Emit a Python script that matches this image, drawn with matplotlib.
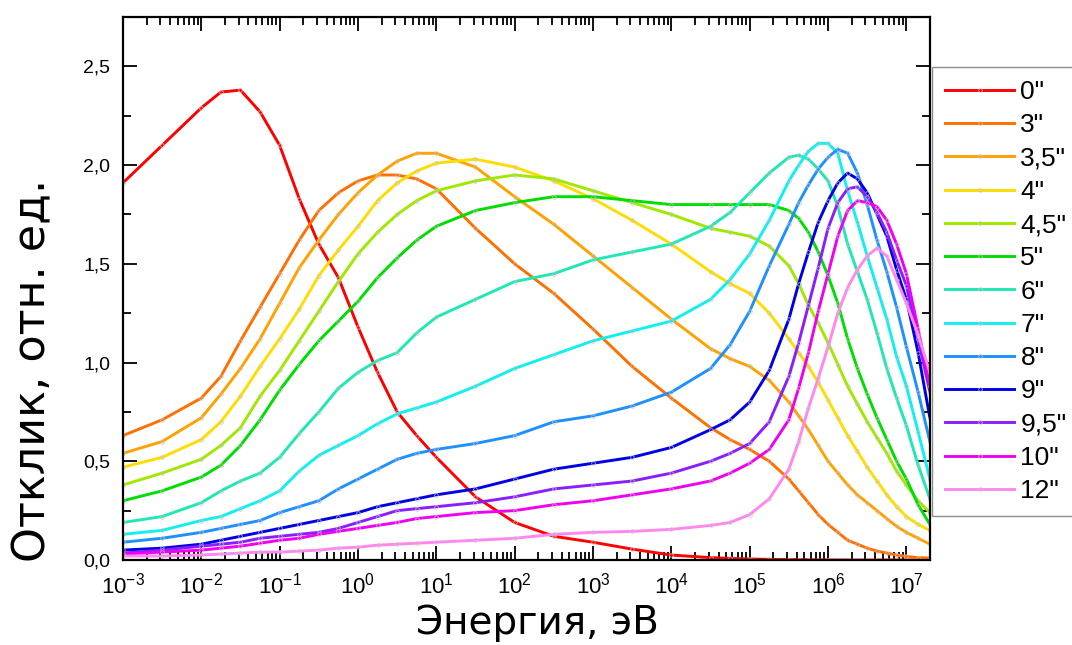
import numpy as np
import matplotlib
matplotlib.use('Agg')
import matplotlib.pyplot as plt
from matplotlib.ticker import LogLocator, MultipleLocator, FuncFormatter, NullFormatter

plt.rcParams['font.family'] = ['Liberation Sans', 'DejaVu Sans']

log_e = [-3, -2.5, -2, -1.75, -1.5, -1.25, -1, -0.75, -0.5, -0.25, 0, 0.25, 0.5, 0.75, 1,
         1.5, 2, 2.5, 3, 3.5, 4, 4.5, 4.75, 5, 5.25,
         5.5, 5.625, 5.75, 5.875, 6, 6.125, 6.25, 6.375, 6.5, 6.625, 6.75, 6.875, 7, 7.15, 7.3]

labels = ['0"', '3"', '3,5"', '4"', '4,5"', '5"', '6"', '7"', '8"', '9"', '9,5"', '10"', '12"']
colors = ['#FF0000', '#FF7000', '#FFA200', '#FFDD00', '#A0E800', '#00DD00', '#20E8B4',
          '#10F0F0', '#1E90FF', '#0000E6', '#8A1EFF', '#F000F0', '#FF88EE']

r0 = [1.91, 2.10, 2.29, 2.37, 2.38, 2.27, 2.10, 1.83, 1.60, 1.43, 1.18, 0.95, 0.75, 0.63, 0.52,
      0.32, 0.19, 0.12, 0.09, 0.055, 0.025, 0.012, 0.008, 0.005, 0.003,
      0.002, 0.002, 0.001, 0.001, 0, 0, 0, 0, 0, 0, 0, 0, 0, 0, 0]
r3 = [0.63, 0.71, 0.82, 0.93, 1.11, 1.28, 1.45, 1.62, 1.77, 1.86, 1.92, 1.95, 1.95, 1.93, 1.88,
      1.68, 1.50, 1.35, 1.17, 0.98, 0.82, 0.67, 0.61, 0.56, 0.50,
      0.41, 0.35, 0.29, 0.23, 0.18, 0.14, 0.10, 0.08, 0.06, 0.045, 0.035, 0.025, 0.018, 0.012, 0.01]
r35 = [0.54, 0.60, 0.72, 0.84, 0.97, 1.12, 1.30, 1.48, 1.62, 1.75, 1.86, 1.95, 2.02, 2.06, 2.06,
       1.99, 1.84, 1.70, 1.54, 1.38, 1.22, 1.07, 1.02, 0.98, 0.91,
       0.80, 0.73, 0.66, 0.58, 0.50, 0.44, 0.38, 0.33, 0.29, 0.25, 0.21, 0.17, 0.14, 0.11, 0.08]
r4 = [0.47, 0.52, 0.61, 0.70, 0.83, 0.98, 1.12, 1.27, 1.44, 1.57, 1.69, 1.82, 1.91, 1.97, 2.01,
      2.03, 1.99, 1.92, 1.83, 1.72, 1.60, 1.46, 1.40, 1.35, 1.25,
      1.12, 1.05, 0.98, 0.90, 0.81, 0.72, 0.63, 0.55, 0.47, 0.40, 0.33, 0.27, 0.22, 0.18, 0.15]
r45 = [0.38, 0.44, 0.51, 0.58, 0.67, 0.83, 0.96, 1.11, 1.26, 1.41, 1.55, 1.66, 1.75, 1.82, 1.87,
       1.92, 1.95, 1.93, 1.87, 1.81, 1.75, 1.68, 1.66, 1.64, 1.59,
       1.49, 1.40, 1.29, 1.20, 1.10, 0.99, 0.88, 0.79, 0.70, 0.62, 0.54, 0.45, 0.38, 0.30, 0.24]
r5 = [0.30, 0.35, 0.42, 0.48, 0.58, 0.71, 0.86, 0.99, 1.11, 1.21, 1.31, 1.43, 1.53, 1.62, 1.69,
      1.77, 1.81, 1.84, 1.84, 1.82, 1.80, 1.80, 1.80, 1.80, 1.80,
      1.77, 1.73, 1.66, 1.56, 1.44, 1.30, 1.12, 0.97, 0.84, 0.72, 0.61, 0.50, 0.41, 0.28, 0.18]
r6 = [0.19, 0.22, 0.29, 0.35, 0.40, 0.44, 0.52, 0.64, 0.75, 0.87, 0.95, 1.01, 1.05, 1.15, 1.23,
      1.32, 1.41, 1.45, 1.52, 1.56, 1.60, 1.69, 1.76, 1.86, 1.96,
      2.04, 2.05, 2.03, 1.98, 1.92, 1.79, 1.60, 1.46, 1.32, 1.15, 0.97, 0.82, 0.68, 0.48, 0.31]
r7 = [0.13, 0.15, 0.20, 0.22, 0.26, 0.30, 0.35, 0.45, 0.53, 0.58, 0.63, 0.69, 0.74, 0.77, 0.80,
      0.88, 0.97, 1.04, 1.11, 1.16, 1.21, 1.32, 1.42, 1.55, 1.72,
      1.92, 2.00, 2.07, 2.11, 2.11, 2.06, 1.87, 1.71, 1.54, 1.38, 1.22, 1.03, 0.88, 0.65, 0.41]
r8 = [0.09, 0.11, 0.14, 0.16, 0.18, 0.20, 0.24, 0.27, 0.30, 0.36, 0.41, 0.46, 0.51, 0.54, 0.56,
      0.59, 0.63, 0.70, 0.73, 0.78, 0.85, 0.97, 1.09, 1.26, 1.49,
      1.70, 1.81, 1.90, 1.98, 2.04, 2.08, 2.06, 1.96, 1.80, 1.62, 1.46, 1.28, 1.08, 0.85, 0.60]
r9 = [0.05, 0.06, 0.08, 0.10, 0.12, 0.14, 0.16, 0.18, 0.20, 0.22, 0.24, 0.27, 0.29, 0.31, 0.33,
      0.36, 0.41, 0.46, 0.49, 0.52, 0.57, 0.66, 0.71, 0.80, 0.96,
      1.22, 1.40, 1.56, 1.71, 1.82, 1.91, 1.96, 1.93, 1.86, 1.75, 1.64, 1.47, 1.32, 1.05, 0.72]
r95 = [0.035, 0.05, 0.07, 0.08, 0.09, 0.11, 0.12, 0.13, 0.14, 0.16, 0.19, 0.22, 0.25, 0.26, 0.27,
       0.29, 0.32, 0.36, 0.38, 0.40, 0.44, 0.50, 0.54, 0.59, 0.70,
       0.93, 1.10, 1.29, 1.48, 1.68, 1.81, 1.88, 1.89, 1.84, 1.76, 1.66, 1.52, 1.39, 1.12, 0.85]
r10 = [0.03, 0.04, 0.05, 0.06, 0.07, 0.085, 0.10, 0.11, 0.13, 0.145, 0.16, 0.175, 0.19, 0.21, 0.22,
       0.24, 0.25, 0.28, 0.30, 0.33, 0.36, 0.40, 0.44, 0.49, 0.56,
       0.71, 0.87, 1.05, 1.26, 1.45, 1.64, 1.77, 1.82, 1.81, 1.79, 1.72, 1.60, 1.45, 1.17, 0.88]
r12 = [0.02, 0.02, 0.025, 0.03, 0.035, 0.04, 0.04, 0.045, 0.05, 0.06, 0.065, 0.075, 0.08, 0.085, 0.09,
       0.10, 0.11, 0.13, 0.14, 0.145, 0.155, 0.175, 0.19, 0.23, 0.31,
       0.46, 0.60, 0.77, 0.92, 1.08, 1.25, 1.38, 1.47, 1.54, 1.58, 1.54, 1.42, 1.30, 1.14, 0.95]

series = [r0, r3, r35, r4, r45, r5, r6, r7, r8, r9, r95, r10, r12]


def main():
    fig = plt.figure(figsize=(10.72, 6.45), dpi=100)
    ax = fig.add_axes([0.1147, 0.1318, 0.7528, 0.8418])

    energy = 10.0 ** np.array(log_e)
    for vals, lab, col in zip(series, labels, colors):
        ax.plot(energy, vals, color=col, lw=2.1, label=lab,
                marker='o', ms=2.6, mfc='none', mec='#c4c4c4', mew=0.5)

    ax.set_xscale('log')
    ax.set_xlim(1e-3, 2e7)
    ax.set_ylim(0, 2.75)

    ax.xaxis.set_major_locator(LogLocator(base=10, numticks=20))
    ax.xaxis.set_minor_locator(LogLocator(base=10, subs=np.arange(2, 10), numticks=200))
    ax.xaxis.set_minor_formatter(NullFormatter())
    ax.yaxis.set_major_locator(MultipleLocator(0.5))
    ax.yaxis.set_minor_locator(MultipleLocator(0.25))
    ax.yaxis.set_major_formatter(FuncFormatter(lambda v, p: f'{v:.1f}'.replace('.', ',')))

    ax.tick_params(which='both', direction='in', top=True, right=True, width=1.3)
    ax.tick_params(which='major', length=10)
    ax.tick_params(which='minor', length=6)
    ax.tick_params(axis='y', labelsize=14, pad=9)
    ax.tick_params(axis='x', labelsize=16, pad=9)
    for sp in ax.spines.values():
        sp.set_linewidth(1.6)

    # labels are drawn wide in the original, DejaVu comes closest
    ax.set_xlabel('Энергия, эВ', fontsize=28, family='DejaVu Sans')
    ax.set_ylabel('Отклик, отн. ед.', fontsize=32, family='DejaVu Sans')
    ax.xaxis.set_label_coords(0.513, -0.081)
    ax.yaxis.set_label_coords(-0.085, 0.349)

    leg = ax.legend(loc='upper left', bbox_to_anchor=(932 / 1072, 1 - 67 / 645),
                    bbox_transform=fig.transFigure, borderaxespad=0, fontsize=19,
                    fancybox=False, edgecolor='#8c8c8c', framealpha=1,
                    handlelength=2.6, handletextpad=0.25, borderpad=0.5,
                    labelspacing=0.35, numpoints=1)
    leg.get_frame().set_linewidth(1.0)

    fig.savefig('out.png', dpi=100)


if __name__ == "__main__":
    main()
